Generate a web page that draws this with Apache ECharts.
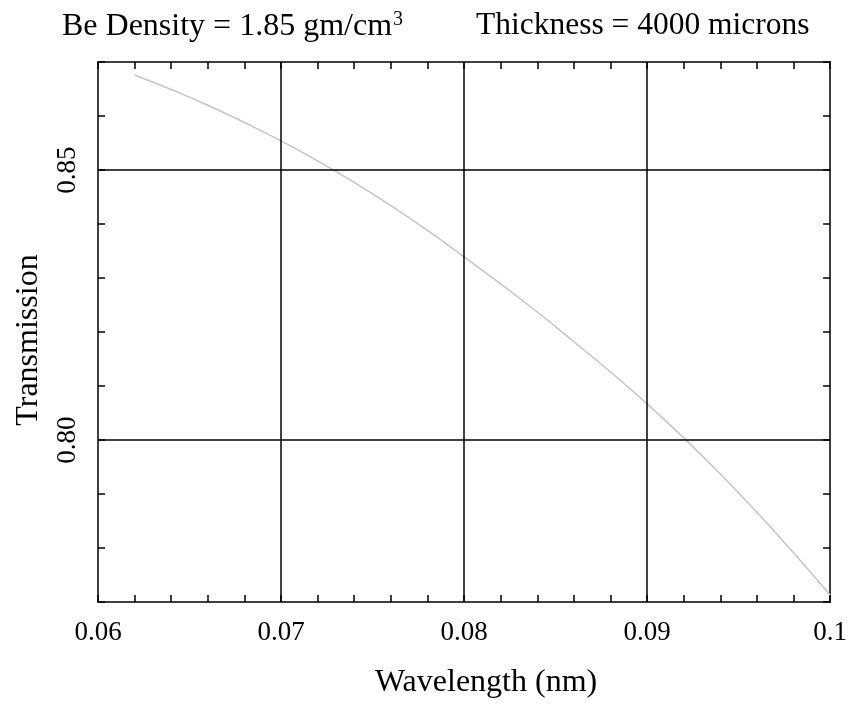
<!DOCTYPE html>
<html>
<head>
<meta charset="utf-8">
<script src="https://cdn.jsdelivr.net/npm/echarts@6/dist/echarts.min.js"></script>
<style>
  html, body { margin: 0; padding: 0; background: #fff; }
  #main { width: 850px; height: 704px; }
</style>
</head>
<body>
<div id="main"></div>
<script>
// wavelength (nm) and transmission
var wavelength = [0.062, 0.064, 0.066, 0.068, 0.070, 0.072, 0.074, 0.076, 0.078, 0.080,
                  0.082, 0.084, 0.086, 0.088, 0.090, 0.092, 0.094, 0.096, 0.098, 0.100];
var transmission = [0.8676, 0.8649, 0.8620, 0.8588, 0.8554, 0.8517, 0.8477, 0.8434, 0.8388, 0.8339,
                    0.8289, 0.8237, 0.8182, 0.8126, 0.8067, 0.8004, 0.7937, 0.7866, 0.7791, 0.7713];
var xGrid = [0.07, 0.08, 0.09];
var yGrid = [0.80, 0.85];
var yLabels = ['0.80', '0.85'];

var font = 'Liberation Serif';
var myChart = echarts.init(document.getElementById('main'));

var pts = wavelength.map(function (w, i) { return [w, transmission[i]]; });
var gridLines = xGrid.map(function (v) { return { xAxis: v }; })
  .concat(yGrid.map(function (v) { return { yAxis: v }; }));

var tickStyle = { show: true, inside: true, length: 7, lineStyle: { color: '#000', width: 1.5 } };

myChart.setOption({
  animation: false,
  title: [{
    left: 62, top: 10, padding: 0,
    text: '{a|Be Density = 1.85 gm/cm}{s|3}',
    textStyle: {
      rich: {
        a: { fontFamily: font, fontSize: 32, fontWeight: 'normal', color: '#000' },
        s: { fontFamily: font, fontSize: 20, fontWeight: 'normal', color: '#000', verticalAlign: 'top', padding: [0, 0, 14, 1] }
      }
    }
  }, {
    left: 476, top: 10, padding: 0,
    text: 'Thickness = 4000 microns',
    textStyle: { fontFamily: font, fontSize: 31.5, fontWeight: 'normal', color: '#000' }
  }],
  grid: { left: 98, right: 17, top: 62, bottom: 102 },
  xAxis: [{
    type: 'value', min: 0.06, max: 0.1, interval: 0.01,
    name: 'Wavelength (nm)', nameLocation: 'middle', nameGap: 65,
    nameTextStyle: { fontFamily: font, fontSize: 32, color: '#000', padding: [0, 0, 0, 44] },
    axisLine: { lineStyle: { color: '#000', width: 1.5 } },
    axisTick: tickStyle,
    minorTick: { show: true, splitNumber: 5, length: 7, lineStyle: { color: '#000', width: 1.5 } },
    axisLabel: { fontFamily: font, fontSize: 27, color: '#000', margin: 17,
      formatter: function (v) { return String(+v.toFixed(2)); } },
    splitLine: { show: false }
  }, {
    type: 'value', position: 'top', min: 0.06, max: 0.1, interval: 0.01,
    axisLine: { lineStyle: { color: '#000', width: 1.5 } },
    axisTick: tickStyle,
    minorTick: { show: true, splitNumber: 5, length: 7, lineStyle: { color: '#000', width: 1.5 } },
    axisLabel: { show: false },
    splitLine: { show: false }
  }],
  yAxis: [{
    type: 'value', min: 0.77, max: 0.87, interval: 0.01,
    name: 'Transmission', nameLocation: 'middle', nameGap: 53,
    nameTextStyle: { fontFamily: font, fontSize: 32, color: '#000', padding: [0, 16, 0, 0] },
    axisLine: { show: true, lineStyle: { color: '#000', width: 1.5 } },
    axisTick: tickStyle,
    axisLabel: { fontFamily: font, fontSize: 27, color: '#000', rotate: 90, margin: 17,
      formatter: function (v) {
        var s = v.toFixed(2);
        return yLabels.indexOf(s) >= 0 ? s : '';
      } },
    splitLine: { show: false }
  }, {
    type: 'value', position: 'right', min: 0.77, max: 0.87, interval: 0.01,
    axisLine: { show: true, lineStyle: { color: '#000', width: 1.5 } },
    axisTick: tickStyle,
    axisLabel: { show: false },
    splitLine: { show: false }
  }],
  series: [{
    type: 'line',
    data: pts,
    smooth: true,
    showSymbol: false,
    lineStyle: { color: '#c4c4c4', width: 1.5 },
    markLine: {
      silent: true, symbol: 'none',
      label: { show: false },
      lineStyle: { color: '#000', width: 1.5, type: 'solid' },
      data: gridLines
    }
  }]
});
</script>
</body>
</html>
